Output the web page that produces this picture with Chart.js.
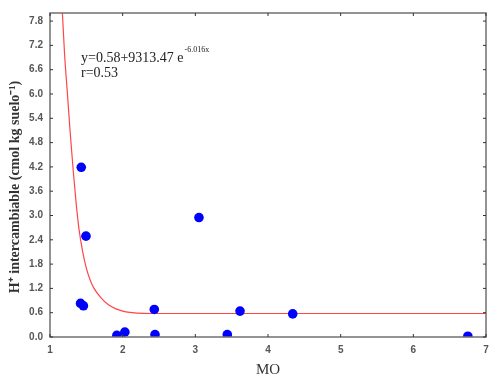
<!DOCTYPE html>
<html>
<head>
<meta charset="utf-8">
<script src="https://cdn.jsdelivr.net/npm/chart.js@4.4.1/dist/chart.umd.min.js"></script>
<style>
  html, body { margin: 0; padding: 0; background: #fff; }
  #wrap { width: 500px; height: 385px; }
</style>
</head>
<body>
<div id="wrap"><canvas id="moChart"></canvas></div>
<script>
// MO vs H+ intercambiable
const moValues = [1.43, 1.495, 1.42, 1.46, 1.92, 2.03, 2.435, 2.445, 3.05, 3.44, 3.615, 4.34, 6.75];
const hValues = [4.19, 2.49, 0.83, 0.77, 0.04, 0.12, 0.68, 0.06, 2.95, 0.06, 0.64, 0.57, 0.02];

// fitted curve, points
const fitX = [1.165, 1.2, 1.24, 1.28, 1.32, 1.36, 1.4, 1.45, 1.5, 1.55, 1.6, 1.7, 1.8, 1.9, 2.0, 2.1, 2.3, 2.6, 7.0];
const fitY = [8.2, 7.0, 6.0, 5.0, 4.1, 3.3, 2.65, 2.1, 1.7, 1.42, 1.22, 0.97, 0.8, 0.7, 0.64, 0.61, 0.585, 0.58, 0.58];

const xTicks = [1, 2, 3, 4, 5, 6, 7];
const yTicks = [0, 0.6, 1.2, 1.8, 2.4, 3.0, 3.6, 4.2, 4.8, 5.4, 6.0, 6.6, 7.2, 7.8];

const yTitle = "H\u207A intercambiable (cmol kg suelo\u207B\u00B9)";
const eqMain = "y=0.58+9313.47 e";
const eqExp = "-6.016x";
const rText = "r=0.53";

const frameColor = "#707070";

const framePlugin = {
  id: "frame",
  afterDraw(chart) {
    const c = chart.ctx;
    const a = chart.chartArea;
    const xs = chart.scales.x;
    const ys = chart.scales.y;
    c.save();
    c.strokeStyle = frameColor;
    c.lineWidth = 1.5;
    c.strokeRect(a.left, a.top, a.right - a.left, a.bottom - a.top);
    c.lineWidth = 1;
    c.strokeStyle = "#333";
    c.beginPath();
    xTicks.forEach(v => {
      const px = xs.getPixelForValue(v);
      c.moveTo(px, a.bottom); c.lineTo(px, a.bottom - 3);
      c.moveTo(px, a.top); c.lineTo(px, a.top + 3);
    });
    yTicks.forEach(v => {
      const py = ys.getPixelForValue(v);
      c.moveTo(a.left, py); c.lineTo(a.left + 3, py);
      c.moveTo(a.right, py); c.lineTo(a.right - 3, py);
    });
    c.stroke();

    // equation text
    c.fillStyle = "#222";
    c.textBaseline = "alphabetic";
    c.textAlign = "left";
    c.font = "14px 'Liberation Serif'";
    c.fillText(eqMain, 81, 62);
    const w = c.measureText(eqMain).width;
    c.font = "8px 'Liberation Serif'";
    c.fillText(eqExp, 81 + w + 1, 52);
    c.font = "14px 'Liberation Serif'";
    c.fillText(rText, 81, 77);

    // y axis title
    c.translate(15, 187);
    c.rotate(-Math.PI / 2);
    c.textAlign = "center";
    c.textBaseline = "middle";
    c.font = "bold 14px 'Liberation Serif'";
    c.fillStyle = "#333";
    c.fillText(yTitle, 0, 0);
    c.restore();
  }
};

const ctx = document.getElementById("moChart");

// eslint-disable-next-line no-unused-vars
const myChart = new Chart(ctx, {
  type: "scatter",
  data: {
    datasets: [
      {
        label: "ajuste",
        data: fitX.map((x, i) => ({ x: x, y: fitY[i] })),
        showLine: true,
        borderColor: "rgb(255, 70, 70)",
        borderWidth: 1.2,
        pointRadius: 0,
        cubicInterpolationMode: "monotone",
        clip: 0,
        order: 2
      },
      {
        label: "H+",
        data: moValues.map((x, i) => ({ x: x, y: hValues[i] })),
        backgroundColor: "#0000ff",
        borderColor: "#0000ff",
        pointRadius: 4.8,
        pointBorderWidth: 0,
        clip: 0,
        order: 1
      }
    ]
  },
  options: {
    responsive: true,
    maintainAspectRatio: false,
    animation: false,
    layout: { padding: { top: 3, right: 14, bottom: 0, left: 0 } },
    plugins: {
      legend: { display: false },
      tooltip: { enabled: false }
    },
    scales: {
      x: {
        type: "linear",
        min: 1,
        max: 7,
        afterBuildTicks: s => { s.ticks = xTicks.map(v => ({ value: v })); },
        afterFit: s => { s.height = 48; },
        grid: { display: false, drawTicks: false },
        border: { display: false },
        ticks: {
          padding: 7,
          color: "#555",
          font: { family: "'Liberation Sans'", size: 10, weight: "bold" },
          callback: v => String(v)
        },
        title: {
          display: true,
          text: "MO",
          color: "#333",
          font: { family: "'Liberation Serif'", size: 15 },
          padding: { top: 0, bottom: 6 }
        }
      },
      y: {
        type: "linear",
        min: 0,
        max: 8,
        afterBuildTicks: s => { s.ticks = yTicks.map(v => ({ value: v })); },
        afterFit: s => { s.width = 50; },
        grid: { display: false, drawTicks: false },
        border: { display: false },
        ticks: {
          padding: 7,
          color: "#555",
          font: { family: "'Liberation Sans'", size: 10, weight: "bold" },
          callback: v => v.toFixed(1)
        }
      }
    }
  },
  plugins: [framePlugin]
});
</script>
</body>
</html>
